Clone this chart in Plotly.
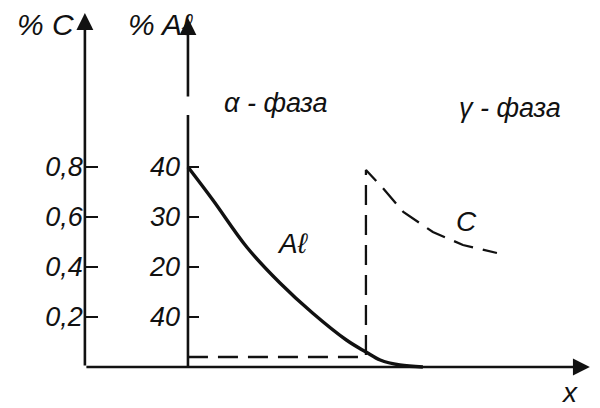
import plotly.graph_objects as go

# ---- data (distance x in arbitrary units: 0 = surface, 1 = phase boundary) ----
al_x = [0.0, 0.14, 0.33, 0.517, 0.70, 0.89, 1.0, 1.08, 1.19, 1.32]
al_pct = [40, 33.4, 24.0, 16.8, 10.8, 5.4, 3.0, 1.4, 0.4, 0.0]

c_x = [0.0, 1.0, 1.0, 1.09, 1.21, 1.376, 1.545, 1.736]
c_pct = [0.04, 0.04, 0.788, 0.72, 0.62, 0.54, 0.488, 0.456]

c_ticks = [0.2, 0.4, 0.6, 0.8]
c_ticktext = ["0,2", "0,4", "0,6", "0,8"]
al_ticks = [10, 20, 30, 40]
al_ticktext = ["40", "20", "30", "40"]

AL_PER_C = 50.0  # scale relation between the two vertical axes

FONT = "Liberation Sans, DejaVu Sans, sans-serif"
BLACK = "#111111"

x_range = [-1.056, 2.315]
c_range = [-0.164, 1.468]
al_range = [c_range[0] * AL_PER_C, c_range[1] * AL_PER_C]

x_c_axis = -0.579   # position of the %C axis
x_al_axis = 0.0     # position of the %Al axis
x_end = 2.258       # tip of x arrow

fig = go.Figure()

fig.add_trace(go.Scatter(
    x=al_x, y=al_pct, mode="lines", yaxis="y2",
    line=dict(color=BLACK, width=3.4, shape="spline", smoothing=1.0),
    hoverinfo="skip", showlegend=False))

fig.add_trace(go.Scatter(
    x=c_x, y=c_pct, mode="lines", yaxis="y",
    line=dict(color=BLACK, width=2.3, dash="20px,10px"),
    hoverinfo="skip", showlegend=False))

def frac(v, r):
    return (v - r[0]) / (r[1] - r[0])

fig.update_layout(
    width=600, height=408,
    margin=dict(l=0, r=0, t=0, b=0, autoexpand=False),
    paper_bgcolor="white", plot_bgcolor="white",
    xaxis=dict(range=x_range, domain=[0, 1], visible=False, automargin=False),
    yaxis=dict(range=c_range, domain=[0, 1], anchor="free",
               position=frac(x_c_axis, x_range), automargin=False,
               showgrid=False, zeroline=False, showline=False,
               ticks="inside", ticklen=12, tickwidth=1.5, tickcolor=BLACK,
               tickvals=c_ticks, ticktext=c_ticktext, ticklabelstandoff=2,
               tickfont=dict(family=FONT, size=27, color=BLACK, style="italic")),
    yaxis2=dict(range=al_range, overlaying="y", anchor="free",
                position=frac(x_al_axis, x_range), side="left", automargin=False,
                showgrid=False, zeroline=False, showline=False,
                ticks="inside", ticklen=10, tickwidth=1.5, tickcolor=BLACK,
                tickvals=al_ticks, ticktext=al_ticktext, ticklabelstandoff=8,
                tickfont=dict(family=FONT, size=27, color=BLACK, style="italic")),
)

# axes drawn as arrows
def arrow(x0, y0, x1, y1, w=2.6):
    fig.add_annotation(x=x1, y=y1, ax=x0, ay=y0, xref="x", yref="y",
                       axref="x", ayref="y", text="", showarrow=True,
                       arrowhead=2, arrowsize=1.3, arrowwidth=w,
                       arrowcolor=BLACK, standoff=0, startstandoff=0)

arrow(x_c_axis, 0, x_end, 0)          # x axis
arrow(x_c_axis, 0, x_c_axis, 1.416)   # %C axis
fig.add_shape(type="line", xref="x", yref="y", x0=x_al_axis, y0=0,
              x1=x_al_axis, y1=1.008, line=dict(color=BLACK, width=2.6))
arrow(x_al_axis, 1.076, x_al_axis, 1.396)  # %Al axis top

def label(txt, x, y, size=30):
    fig.add_annotation(x=x, y=y, xref="x", yref="y", text=txt, showarrow=False,
                       font=dict(family=FONT, size=size, color=BLACK, style="italic"))

label("% C", -0.803, 1.372, 30)
label("% Aℓ", -0.157, 1.372, 30)
label("α - фаза", 0.494, 1.056, 27)
label("γ - фаза", 1.809, 1.036, 27)
label("Aℓ", 0.59, 0.496, 28)
label("C", 1.567, 0.584, 28)
label("x", 2.146, -0.10, 28)

fig.write_html("out.html",
               config={"displayModeBar": False},
               post_script="document.body.style.margin='0';document.body.style.overflow='hidden';")
